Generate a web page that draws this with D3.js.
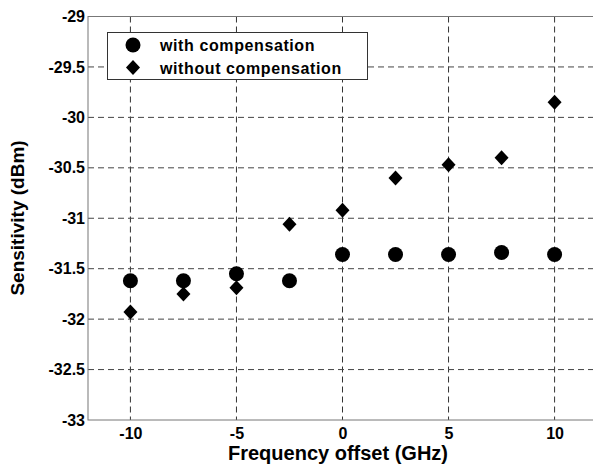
<!DOCTYPE html>
<html>
<head>
<meta charset="utf-8">
<script src="https://cdn.jsdelivr.net/npm/d3@7"></script>
<style>
  body { margin: 0; background: #fff; }
  text { font-family: "Liberation Sans", Arial, sans-serif; font-weight: bold; }
</style>
</head>
<body>
<svg id="chart" width="593" height="466"></svg>
<script>
var offsets = [-10, -7.5, -5, -2.5, 0, 2.5, 5, 7.5, 10];
var withComp = [-31.62, -31.62, -31.55, -31.62, -31.36, -31.36, -31.36, -31.34, -31.36];
var withoutComp = [-31.93, -31.75, -31.69, -31.06, -30.92, -30.60, -30.47, -30.40, -29.85];
var xTicks = [-10, -5, 0, 5, 10];
var yTicks = [-29, -29.5, -30, -30.5, -31, -31.5, -32, -32.5, -33];
var legendLabels = ['with compensation', 'without compensation'];

var svg = d3.select('#chart');
var pLeft = 88, pRight = 597, pTop = 16.5, pBottom = 420;

var xScale = d3.scaleLinear().domain([-12, 12]).range([pLeft, pRight]);
var yScale = d3.scaleLinear().domain([-33, -29]).range([pBottom, pTop]);

function fmt(d) { return String(d); }  // plain hyphen minus, like the original

// grid
svg.append('g').selectAll('line')
  .data(xTicks)
  .enter().append('line')
  .attr('x1', function(d){ return xScale(d); })
  .attr('x2', function(d){ return xScale(d); })
  .attr('y1', pTop).attr('y2', pBottom)
  .attr('stroke', '#333').attr('stroke-dasharray', '6,4');

svg.append('g').selectAll('line')
  .data(yTicks.slice(1, -1))
  .enter().append('line')
  .attr('y1', function(d){ return yScale(d); })
  .attr('y2', function(d){ return yScale(d); })
  .attr('x1', pLeft).attr('x2', pRight)
  .attr('stroke', '#444').attr('stroke-dasharray', '6,4');

// frame
svg.append('rect')
  .attr('x', pLeft).attr('y', pTop)
  .attr('width', pRight - pLeft).attr('height', pBottom - pTop)
  .attr('fill', 'none').attr('stroke', '#777');

// axes
var xAxis = svg.append('g')
  .attr('transform', 'translate(0,' + pBottom + ')')
  .call(d3.axisBottom(xScale).tickValues(xTicks).tickSize(0).tickPadding(8)
        .tickFormat(fmt));
var yAxis = svg.append('g')
  .attr('transform', 'translate(' + pLeft + ',0)')
  .call(d3.axisLeft(yScale).tickValues(yTicks).tickSize(0).tickPadding(3)
        .tickFormat(fmt));
[xAxis, yAxis].forEach(function(a){
  a.select('.domain').remove();
  a.selectAll('text').attr('fill', '#000').style('font-size', '16px')
    .style('font-family', '"Liberation Sans", Arial, sans-serif');
});

// axis titles
svg.append('text')
  .attr('x', 338).attr('y', 460)
  .attr('text-anchor', 'middle')
  .style('font-size', '20px')
  .text('Frequency offset (GHz)');
svg.append('text')
  .attr('transform', 'translate(24,218) rotate(-90)')
  .attr('text-anchor', 'middle')
  .style('font-size', '19px')
  .text('Sensitivity (dBm)');

// markers
svg.append('g').selectAll('circle')
  .data(offsets)
  .enter().append('circle')
  .attr('cx', function(d){ return xScale(d); })
  .attr('cy', function(d, i){ return yScale(withComp[i]); })
  .attr('r', 7.5)
  .attr('fill', '#000');

var diamond = 'M0,-7.5L7,0L0,7.5L-7,0Z';
svg.append('g').selectAll('path')
  .data(offsets)
  .enter().append('path')
  .attr('d', diamond)
  .attr('transform', function(d, i){
    return 'translate(' + xScale(d) + ',' + yScale(withoutComp[i]) + ')';
  })
  .attr('fill', '#000');

// legend
var legend = svg.append('g');
legend.append('rect')
  .attr('x', 107.5).attr('y', 32.5)
  .attr('width', 260).attr('height', 47)
  .attr('fill', '#fff').attr('stroke', '#333');
legend.append('circle')
  .attr('cx', 133).attr('cy', 45).attr('r', 7.5).attr('fill', '#000');
legend.append('path')
  .attr('d', diamond)
  .attr('transform', 'translate(133,67.5)')
  .attr('fill', '#000');
legend.selectAll('text')
  .data(legendLabels)
  .enter().append('text')
  .attr('x', 160)
  .attr('y', function(d, i){ return 51 + i * 22.5; })
  .style('font-size', '16px')
  .style('letter-spacing', '0.6px')
  .text(function(d){ return d; });
</script>
</body>
</html>
